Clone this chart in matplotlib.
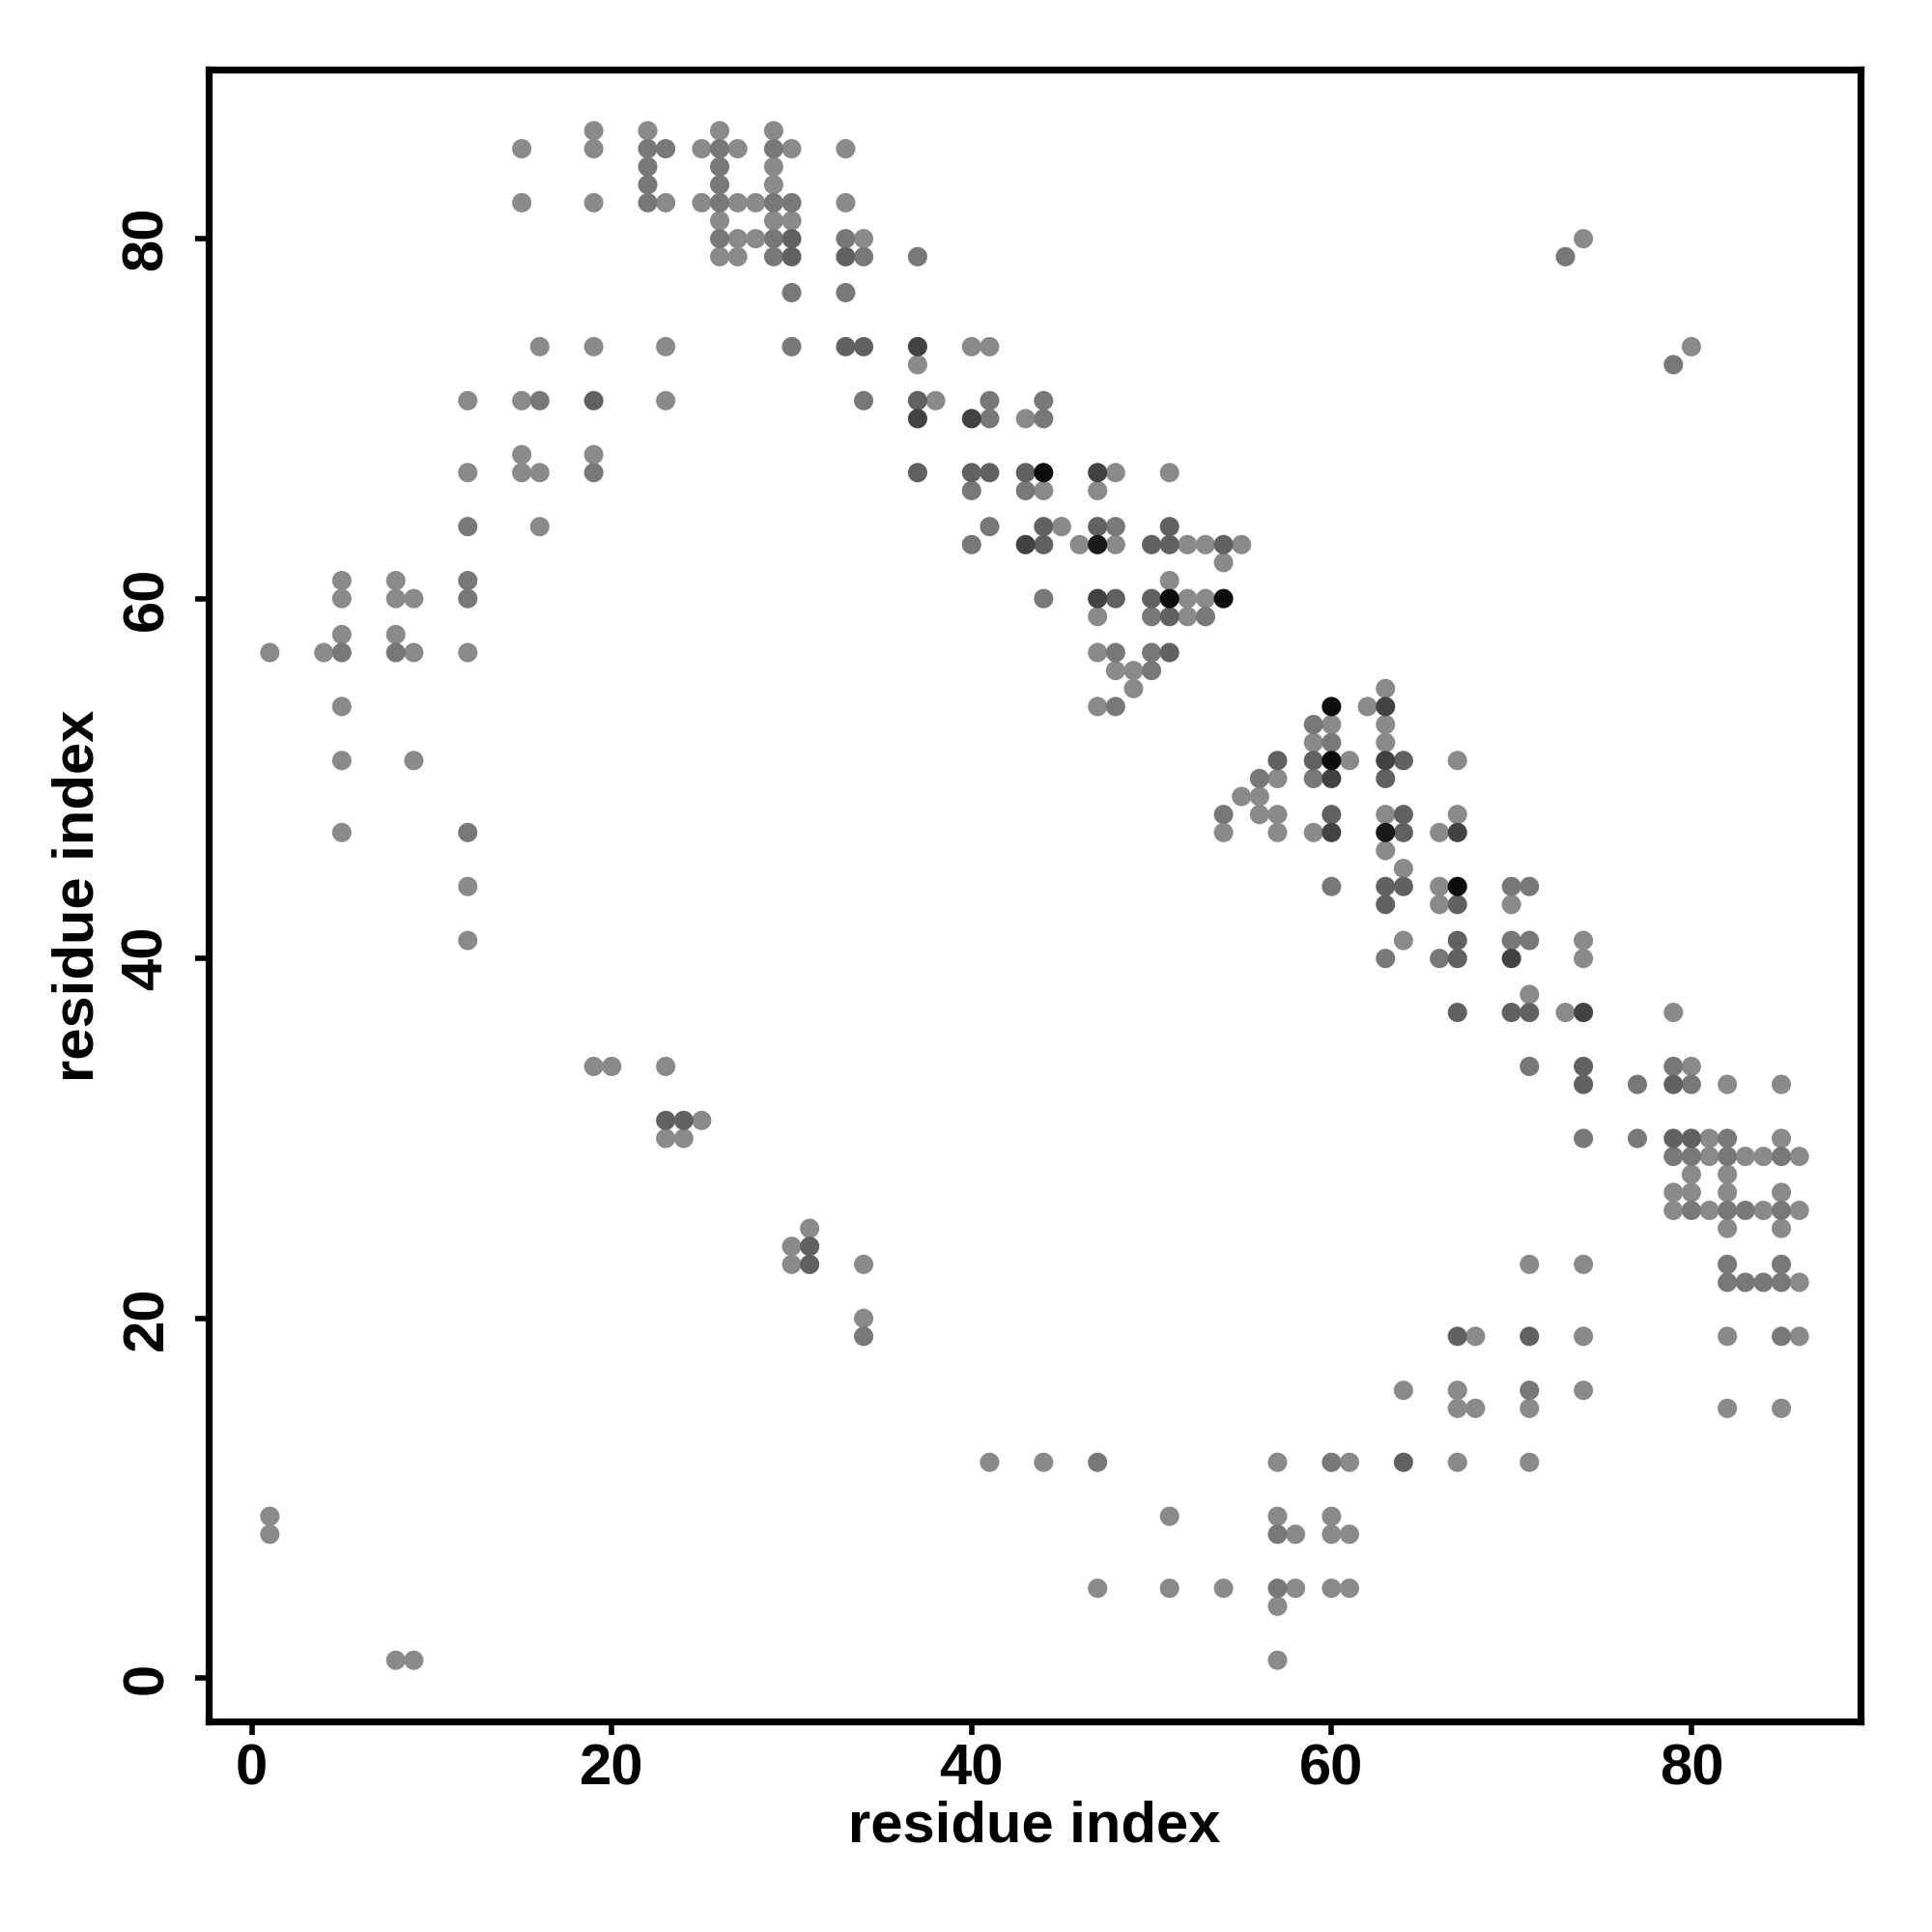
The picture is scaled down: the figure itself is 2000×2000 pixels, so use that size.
import matplotlib
matplotlib.use("Agg")
import matplotlib.pyplot as plt

# contact map: residue i, residue j, grey level of the dot (0 = black)
L, M, D, V, K = 0.54, 0.47, 0.38, 0.26, 0.05

res_i = [
    1, 1, 1,
    4,
    5, 5, 5, 5, 5, 5, 5,
    8, 8, 8, 8, 8,
    9, 9, 9, 9,
    12, 12, 12, 12, 12, 12, 12, 12, 12,
    15, 15, 15, 15, 15,
    16, 16, 16, 16,
    19, 19, 19, 19, 19, 19, 19, 19,
    20,
    22, 22, 22, 22, 22,
    23, 23, 23, 23, 23, 23, 23,
    24, 24,
    25, 25, 25,
    26, 26, 26, 26, 26, 26, 26, 26,
    27, 27, 27, 27,
    28, 28,
    29, 29, 29, 29, 29, 29, 29, 29,
    30, 30, 30, 30, 30, 30, 30, 30, 30,
    31, 31, 31,
    33, 33, 33, 33, 33, 33,
    34, 34, 34, 34, 34, 34, 34,
    37, 37, 37, 37, 37, 37,
    38,
    40, 40, 40, 40, 40,
    41, 41, 41, 41, 41, 41,
    43, 43, 43, 43,
    44, 44, 44, 44, 44, 44, 44, 44,
    45, 46,
    47, 47, 47, 47, 47, 47, 47, 47, 47, 47,
    48, 48, 48, 48, 48, 48, 48,
    49, 49,
    50, 50, 50, 50, 50,
    51, 51, 51, 51, 51, 51, 51, 51, 51,
    52, 52, 52,
    53, 53, 53,
    54, 54, 54, 54, 54, 54,
    55, 55,
    56, 56, 56,
    57, 57, 57, 57, 57, 57, 57, 57, 57, 57,
    58, 58,
    59, 59, 59, 59, 59,
    60, 60, 60, 60, 60, 60, 60, 60, 60, 60, 60, 60,
    61, 61, 61, 61,
    62,
    63, 63, 63, 63, 63, 63, 63, 63, 63, 63, 63, 63,
    64, 64, 64, 64, 64, 64, 64, 64,
    66, 66, 66, 66,
    67, 67, 67, 67, 67, 67, 67, 67, 67, 67, 67, 67,
    68, 68,
    70, 70, 70, 70, 70,
    71, 71, 71, 71, 71, 71, 71, 71, 71, 71,
    73, 73,
    74, 74, 74, 74, 74, 74, 74, 74, 74, 74,
    77, 77,
    79, 79, 79, 79, 79, 79, 79, 79,
    80, 80, 80, 80, 80, 80, 80, 80,
    81, 81, 81,
    82, 82, 82, 82, 82, 82, 82, 82, 82, 82, 82,
    83, 83, 83,
    84, 84, 84,
    85, 85, 85, 85, 85, 85, 85, 85, 85, 85,
    86, 86, 86, 86,
]

res_j = [
    57, 9, 8,
    57,
    61, 60, 58, 57, 54, 51, 47,
    61, 60, 58, 57, 1,
    60, 57, 51, 1,
    71, 67, 64, 61, 60, 57, 47, 44, 41,
    85, 82, 71, 68, 67,
    74, 71, 67, 64,
    86, 85, 82, 74, 71, 68, 67, 34,
    34,
    86, 85, 84, 83, 82,
    85, 82, 74, 71, 34, 31, 30,
    31, 30,
    85, 82, 31,
    86, 85, 84, 83, 82, 81, 80, 79,
    85, 82, 80, 79,
    82, 80,
    86, 85, 84, 83, 82, 81, 80, 79,
    85, 82, 81, 80, 79, 77, 74, 24, 23,
    25, 24, 23,
    85, 82, 80, 79, 77, 74,
    80, 79, 74, 71, 23, 20, 19,
    79, 74, 73, 71, 70, 67,
    71,
    74, 70, 67, 66, 63,
    74, 71, 70, 67, 64, 12,
    70, 67, 66, 63,
    71, 70, 67, 66, 64, 63, 60, 12,
    64, 63,
    67, 66, 64, 63, 60, 59, 57, 54, 12, 5,
    67, 64, 63, 60, 57, 56, 54,
    56, 55,
    63, 60, 59, 57, 56,
    67, 64, 63, 61, 60, 59, 57, 9, 5,
    63, 60, 59,
    63, 60, 59,
    63, 62, 60, 48, 47, 5,
    63, 49,
    50, 49, 48,
    51, 50, 48, 47, 12, 9, 8, 5, 4, 1,
    8, 5,
    53, 52, 51, 50, 47,
    54, 53, 52, 51, 50, 48, 47, 44, 12, 9, 8, 5,
    51, 12, 8, 5,
    54,
    55, 54, 53, 52, 51, 50, 48, 47, 46, 44, 43, 40,
    51, 48, 47, 45, 44, 41, 16, 12,
    47, 44, 43, 40,
    51, 48, 47, 44, 43, 41, 40, 37, 19, 16, 15, 12,
    19, 15,
    44, 43, 41, 40, 37,
    44, 41, 38, 37, 34, 23, 19, 16, 15, 12,
    79, 37,
    80, 41, 40, 37, 34, 33, 30, 23, 19, 16,
    33, 30,
    73, 37, 34, 33, 30, 29, 27, 26,
    74, 34, 33, 30, 29, 28, 27, 26,
    30, 29, 26,
    33, 30, 29, 28, 27, 26, 25, 23, 22, 19, 15,
    29, 26, 22,
    29, 26, 22,
    33, 30, 29, 27, 26, 25, 23, 22, 19, 15,
    29, 26, 22, 19,
]

shade = [
    L, L, L,
    L,
    L, L, L, M, L, L, L,
    L, L, L, M, L,
    L, L, L, L,
    L, L, M, M, M, L, M, L, L,
    L, L, L, L, L,
    L, M, L, L,
    L, L, L, L, D, L, M, L,
    L,
    L, M, M, M, M,
    M, L, L, L, L, D, L,
    D, L,
    L, L, L,
    L, M, M, M, M, L, M, L,
    L, L, L, L,
    L, L,
    L, M, L, L, M, L, M, M,
    L, M, L, D, D, M, M, L, L,
    L, D, D,
    L, L, M, D, M, D,
    L, M, D, M, L, L, M,
    M, V, L, D, V, D,
    L,
    L, V, D, M, M,
    L, M, M, D, M, L,
    L, D, M, V,
    M, M, K, L, D, D, M, L,
    L, L,
    V, L, D, 0.1, V, L, L, L, M, L,
    L, M, L, D, M, L, M,
    L, L,
    D, D, M, M, M,
    L, D, D, L, K, D, D, L, L,
    L, L, L,
    L, L, M,
    D, L, K, M, L, L,
    L, L,
    M, L, L,
    D, L, L, L, L, L, M, M, L, L,
    L, L,
    M, L, D, M, L,
    K, L, M, K, V, D, V, M, M, L, L, L,
    L, L, L, L,
    L,
    L, V, L, L, V, D, L, 0.1, L, D, D, M,
    D, D, D, L, D, L, L, D,
    L, L, L, M,
    L, L, V, K, D, D, D, D, D, L, L, L,
    L, L,
    M, L, M, V, D,
    M, M, L, D, M, L, D, M, L, L,
    M, L,
    L, L, L, V, D, D, M, L, L, L,
    M, M,
    M, L, M, D, D, M, L, L,
    L, L, M, D, M, L, L, M,
    L, L, L,
    L, M, M, L, L, M, L, M, M, L, L,
    L, M, M,
    L, L, M,
    L, L, M, L, M, L, M, M, M, L,
    L, L, L, L,
]

# draw light dots first so the dark ones sit on top
order = sorted(range(len(res_i)), key=lambda k: -shade[k])
xs = [res_i[k] for k in order]
ys = [res_j[k] for k in order]
cs = [str(shade[k]) for k in order]

plt.rcParams["font.family"] = ["Liberation Sans", "DejaVu Sans"]
plt.rcParams["font.weight"] = "bold"

fig = plt.figure(figsize=(10, 10), dpi=200)
ax = fig.add_axes([0.108, 0.109, 0.855, 0.855])
ax.scatter(xs, ys, s=52, c=cs, edgecolors="none", zorder=2)

lo = min(res_i) - 0.04 * (max(res_i) - min(res_i))
hi = max(res_i) + 0.04 * (max(res_i) - min(res_i))
ax.set_xlim(lo, hi)
ax.set_ylim(lo, hi)
ax.set_xticks([0, 20, 40, 60, 80])
ax.set_yticks([0, 20, 40, 60, 80])

for s in ax.spines.values():
    s.set_linewidth(2.6)
ax.tick_params(length=5, width=2.0, labelsize=21.5)
ax.tick_params(axis="x", pad=3)
ax.tick_params(axis="y", pad=8)
for t in ax.get_yticklabels():
    t.set_rotation(90)
    t.set_va("center")

ax.set_xlabel("residue index", fontsize=21.5, fontweight="bold", va="center")
ax.set_ylabel("residue index", fontsize=21.5, fontweight="bold", va="center")
ax.xaxis.set_label_coords(0.5, -0.064)
ax.yaxis.set_label_coords(-0.079, 0.5)

fig.savefig("out.png", dpi=200, facecolor="white")
